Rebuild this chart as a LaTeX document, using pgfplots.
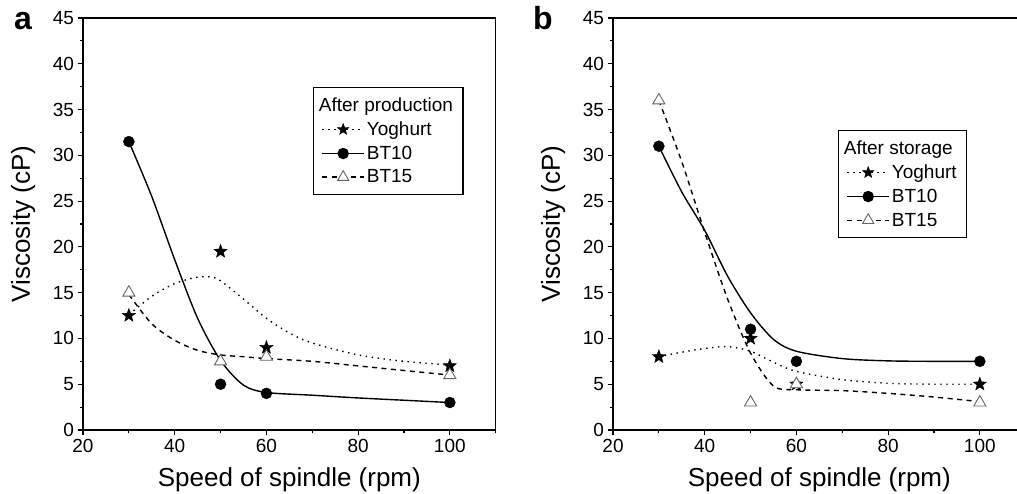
\documentclass[border=0pt]{standalone}
\usepackage{fontspec}
\setmainfont{Liberation Sans}
\usepackage{pgfplots}
\pgfplotsset{compat=1.18}

% filled five-pointed star
\pgfdeclareplotmark{fstar}{%
  \pgfpathmoveto{\pgfpointpolar{90}{\pgfplotmarksize}}%
  \pgfpathlineto{\pgfpointpolar{126}{0.42*\pgfplotmarksize}}%
  \pgfpathlineto{\pgfpointpolar{162}{\pgfplotmarksize}}%
  \pgfpathlineto{\pgfpointpolar{198}{0.42*\pgfplotmarksize}}%
  \pgfpathlineto{\pgfpointpolar{234}{\pgfplotmarksize}}%
  \pgfpathlineto{\pgfpointpolar{270}{0.42*\pgfplotmarksize}}%
  \pgfpathlineto{\pgfpointpolar{306}{\pgfplotmarksize}}%
  \pgfpathlineto{\pgfpointpolar{342}{0.42*\pgfplotmarksize}}%
  \pgfpathlineto{\pgfpointpolar{18}{\pgfplotmarksize}}%
  \pgfpathlineto{\pgfpointpolar{54}{0.42*\pgfplotmarksize}}%
  \pgfpathclose
  \pgfusepathqfillstroke
}

\pgfplotsset{
  visc/.style={
    scale only axis, width=412.7pt, height=412pt,
    xmin=20, xmax=110, ymin=0, ymax=45,
    xtick={20,40,60,80,100}, minor xtick={30,50,70,90,110},
    ytick={0,5,...,45}, minor ytick={2.5,7.5,...,42.5},
    tick pos=left, tick align=outside,
    major tick length=5.5pt, minor tick length=3.5pt,
    axis line style={line width=1.2pt},
    every tick/.style={line width=1.2pt, black},
    tick label style={font=\fontsize{19}{21}\selectfont},
    /pgf/number format/assume math mode=true,
    xlabel={Speed of spindle (rpm)},
    ylabel={Viscosity (cP)},
    label style={font=\fontsize{26}{30}\selectfont},
    xlabel style={at={(axis description cs:0.5,-0.09)}, anchor=north, inner sep=0pt},
    ylabel style={at={(axis description cs:-0.145,0.5)}, anchor=center, inner sep=0pt},
    legend style={draw=black, line width=1.2pt, font=\fontsize{19}{22}\selectfont,
      anchor=north west, row sep=5pt, inner xsep=8pt, inner ysep=8pt},
    legend cell align=left,
    legend image code/.code={\draw[mark repeat=2, mark phase=2, #1]
      plot coordinates {(0pt,0pt) (21pt,0pt) (42pt,0pt)};},
  },
  yog/.style={black, line width=1.4pt, dash pattern=on 1.4pt off 4.6pt},
  bt10/.style={black, line width=1.4pt},
  bt15/.style={black, line width=1.4pt, dash pattern=on 5pt off 4.5pt},
  starm/.style={only marks, mark=fstar, mark size=7pt, mark options={solid, fill=black, line width=0.4pt}},
  circm/.style={only marks, mark=*, mark size=5.5pt, mark options={solid, fill=black}},
  trim/.style={only marks, mark=triangle*, mark size=7pt, mark options={solid, fill=white, draw=black!60, line width=0.9pt}},
}

\begin{document}
\begin{tikzpicture}
\useasboundingbox (0pt,0pt) rectangle (1017pt,494pt);

% ---------------- panel a ----------------
\begin{axis}[visc, at={(83pt,64pt)}, anchor=south west,
  legend style={at={(axis description cs:0.557,0.8325)}}]
\addlegendimage{empty legend}\addlegendentry{\hspace*{-48pt}After production}
\addlegendimage{yog, mark=fstar, mark size=6pt, mark options={solid, fill=black, line width=0.4pt}}
\addlegendentry{Yoghurt}
\addlegendimage{bt10, mark=*, mark size=5pt, mark options={solid, fill=black}}
\addlegendentry{BT10}
\addlegendimage{bt15, mark=triangle*, mark size=6.5pt, mark options={solid, fill=white, draw=black!60, line width=0.9pt}}
\addlegendentry{BT15}

% fitted curves (read off the figure)
\addplot[yog, smooth, forget plot] coordinates {
 (30,12.6) (35,14.6) (40,16.0) (45,16.7) (48,16.7) (50,16.3) (55,14.3)
 (60,12.2) (65,10.6) (70,9.5) (80,8.2) (90,7.5) (100,7.1)};
\addplot[bt10, smooth, forget plot] coordinates {
 (30,31.5) (35,25.5) (40,18.6) (45,12.2) (50,7.6) (55,4.9) (60,4.1)
 (70,3.8) (80,3.5) (90,3.25) (100,3.0)};
\addplot[bt15, smooth, forget plot] coordinates {
 (30,14.8) (35,11.6) (40,9.8) (45,8.7) (50,8.2) (55,8.0) (60,7.8)
 (70,7.5) (80,7.0) (90,6.5) (100,6.0)};

% measured points
\addplot[starm, forget plot] coordinates {(30,12.5) (50,19.5) (60,9) (100,7)};
\addplot[circm, forget plot] coordinates {(30,31.5) (50,5) (60,4) (100,3)};
\addplot[trim, forget plot] coordinates {(30,15) (50,7.5) (60,8) (100,6)};
\end{axis}

% ---------------- panel b ----------------
\begin{axis}[visc, at={(613pt,64pt)}, anchor=south west,
  legend style={at={(axis description cs:0.545,0.728)}}]
\addlegendimage{empty legend}\addlegendentry{\hspace*{-48pt}After storage}
\addlegendimage{yog, mark=fstar, mark size=6pt, mark options={solid, fill=black, line width=0.4pt}}
\addlegendentry{Yoghurt}
\addlegendimage{bt10, mark=*, mark size=5pt, mark options={solid, fill=black}}
\addlegendentry{BT10}
\addlegendimage{bt15, mark=triangle*, mark size=6.5pt, mark options={solid, fill=white, draw=black!60, line width=0.9pt}}
\addlegendentry{BT15}

\addplot[yog, smooth, forget plot] coordinates {
 (30,8.0) (35,8.5) (40,8.9) (45,9.1) (50,8.6) (55,7.4) (60,6.4)
 (70,5.5) (80,5.1) (90,5.0) (100,5.0)};
\addplot[bt10, smooth, forget plot] coordinates {
 (30,31.0) (35,26.0) (40,21.8) (45,16.8) (50,12.8) (55,9.9) (60,8.6)
 (70,7.8) (80,7.55) (90,7.5) (100,7.5)};
\addplot[bt15, smooth, forget plot] coordinates {
 (30,36.0) (35,29.3) (40,21.6) (45,14.3) (50,8.4) (55,4.8) (60,4.4)
 (70,4.3) (80,4.0) (90,3.6) (100,3.1)};

\addplot[starm, forget plot] coordinates {(30,8) (50,10) (60,5) (100,5)};
\addplot[circm, forget plot] coordinates {(30,31) (50,11) (60,7.5) (100,7.5)};
\addplot[trim, forget plot] coordinates {(30,36) (50,3) (60,5) (100,3)};
\end{axis}

\node[anchor=base west, inner sep=0pt, font=\fontsize{32}{36}\selectfont\bfseries] at (14pt,464pt) {a};
\node[anchor=base west, inner sep=0pt, font=\fontsize{32}{36}\selectfont\bfseries] at (533pt,464pt) {b};
\end{tikzpicture}
\end{document}
